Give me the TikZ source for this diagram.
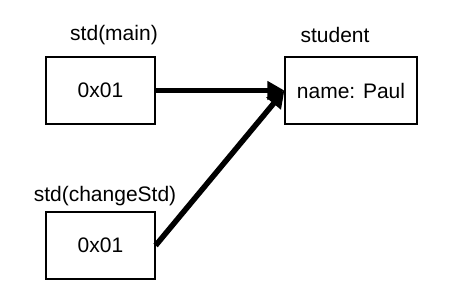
\documentclass[tikz,border=0pt]{standalone}
\usepackage{fontspec}
\setmainfont{Liberation Sans}
\usetikzlibrary{arrows.meta}
\begin{document}
\begin{tikzpicture}[x=1pt,y=-1pt,
  cell/.style={draw, line width=1.2pt, minimum height=67pt, inner sep=0pt, font=\fontsize{21}{25}\selectfont},
  caption/.style={inner sep=0pt, font=\fontsize{21}{25}\selectfont},
  ptr/.style={line width=5.5pt, -{Triangle[length=17pt,width=18pt]}}]
  \useasboundingbox (0,0) rectangle (455,305);
  % variable cells
  \node[cell, minimum width=109pt] (m) at (100.5,90.5) {0x01};
  \node[cell, minimum width=109pt] (c) at (100.5,245.5) {0x01};
  \node[cell, minimum width=132pt] (s) at (351,90.5) {name: Paul};
  % captions above cells
  \node[caption] (lm) at (114,35) {std(main)};
  \node[caption] (ls) at (335,35) {student};
  \node[caption] (lc) at (105,196) {std(changeStd)};
  % references
  \draw[ptr] (m.east) -- (s.west);
  \draw[ptr] (c.east) -- (s.west);
\end{tikzpicture}
\end{document}
